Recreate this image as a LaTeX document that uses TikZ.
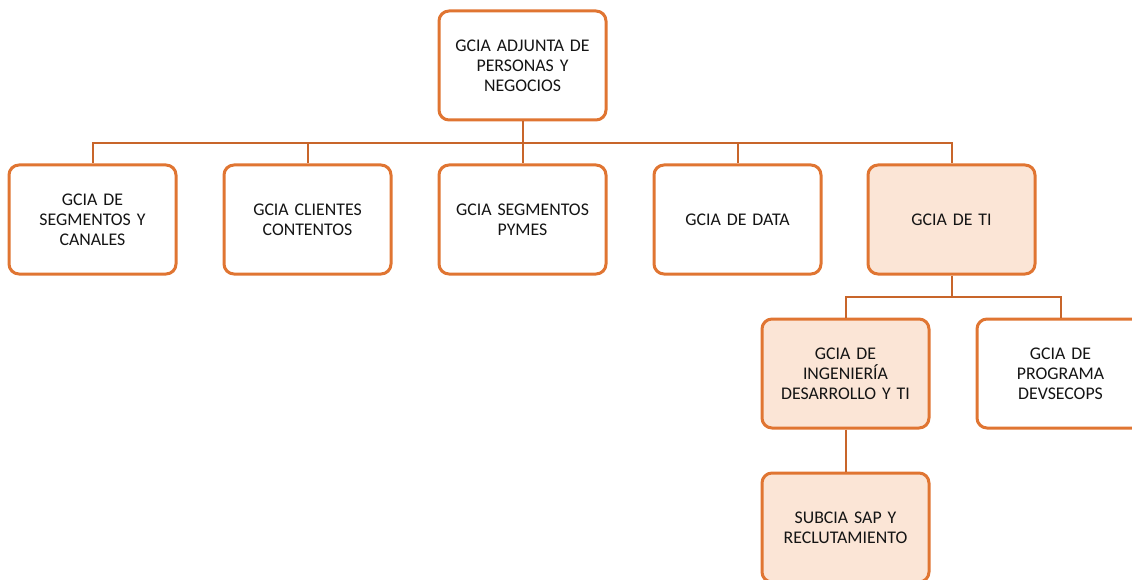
\documentclass[tikz,border=0pt]{standalone}
\usepackage{fontspec}
\setmainfont{Carlito}
\definecolor{boxline}{HTML}{E07532}
\definecolor{conn}{HTML}{C8652A}
\definecolor{boxfill}{HTML}{FBE5D6}
\begin{document}
\begin{tikzpicture}[x=1pt,y=-1pt,
  orgbox/.style={draw=boxline,line width=3pt,rounded corners=10pt,fill=white,
    minimum width=167pt,minimum height=109pt,align=center,text width=158pt,
    font=\fontsize{17.8pt}{20pt}\selectfont,text=black!92},
  hl/.style={fill=boxfill},
  link/.style={draw=conn,line width=2pt}]
\useasboundingbox (0,0) rectangle (1132,580);
\begin{scope}
\clip (0,0) rectangle (1132,580);
\coordinate (bus1) at (522.5,143);
\coordinate (bus2) at (951.5,297);
\node[orgbox] (top) at (522.5,65.5) {GCIA ADJUNTA DE\\PERSONAS Y\\NEGOCIOS};
\node[orgbox] (b1) at (92.5,219.5) {GCIA DE\\SEGMENTOS Y\\CANALES};
\node[orgbox] (b2) at (307.5,219.5) {GCIA CLIENTES\\CONTENTOS};
\node[orgbox] (b3) at (522.5,219.5) {GCIA SEGMENTOS\\PYMES};
\node[orgbox] (b4) at (737.5,219.5) {GCIA DE DATA};
\node[orgbox,hl] (b5) at (951.5,219.5) {GCIA DE TI};
\node[orgbox,hl] (c1) at (845.5,373.5) {GCIA DE\\INGENIERÍA\\DESARROLLO Y TI};
\node[orgbox] (c2) at (1060.5,373.5) {GCIA DE\\PROGRAMA\\DEVSECOPS};
\node[orgbox,hl] (d1) at (845.5,527.5) {SUBCIA SAP Y\\RECLUTAMIENTO};
\draw[link] (top.south) -- (bus1);
\draw[link] (bus1) -| (b1.north);
\draw[link] (bus1) -| (b2.north);
\draw[link] (bus1) -- (b3.north);
\draw[link] (bus1) -| (b4.north);
\draw[link] (bus1) -| (b5.north);
\draw[link] (b5.south) -- (bus2);
\draw[link] (bus2) -| (c1.north);
\draw[link] (bus2) -| (c2.north);
\draw[link] (c1.south) -- (d1.north);
\end{scope}
\end{tikzpicture}
\end{document}
